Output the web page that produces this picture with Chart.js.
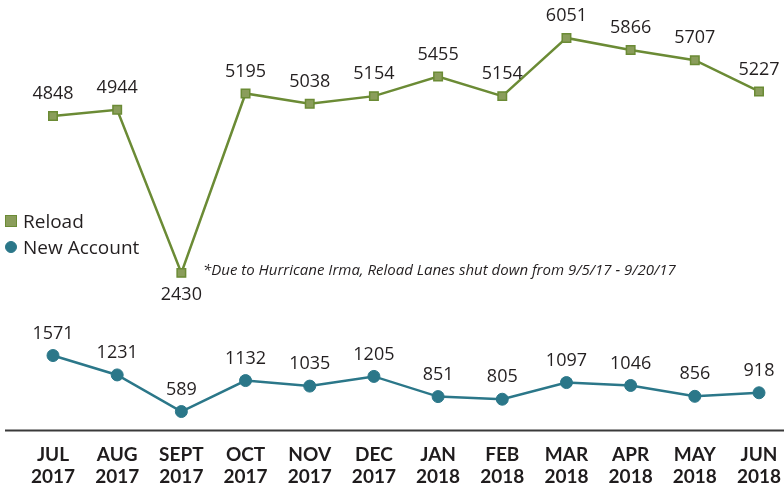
<!DOCTYPE html>
<html>
<head>
<meta charset="utf-8">
<script src="https://cdn.jsdelivr.net/npm/chart.js@4.4.0/dist/chart.umd.min.js"></script>
<style>
  html, body { margin: 0; padding: 0; background: #fff; }
  #wrap { position: relative; width: 784px; height: 489px; }
  #legend { position: absolute; left: 5px; top: 208px; font-family: 'Open Sans', sans-serif; font-size: 19px; color: #231f20; }
  #legend div { display: flex; align-items: center; height: 26px; }
  #legend span.sw { display: inline-block; width: 12px; height: 12px; margin-right: 6px; box-sizing: border-box; }
  #note { position: absolute; left: 203px; top: 259px; font-family: 'Open Sans', sans-serif; font-style: italic; font-size: 15px; color: #231f20; white-space: nowrap; }
</style>
</head>
<body>
<div id="wrap">
  <canvas id="chart" width="784" height="489"></canvas>
  <div id="legend"></div>
  <div id="note"></div>
</div>
<script>
const months = [['JUL', '2017'], ['AUG', '2017'], ['SEPT', '2017'], ['OCT', '2017'], ['NOV', '2017'], ['DEC', '2017'],
                ['JAN', '2018'], ['FEB', '2018'], ['MAR', '2018'], ['APR', '2018'], ['MAY', '2018'], ['JUN', '2018']];
const reload = [4848, 4944, 2430, 5195, 5038, 5154, 5455, 5154, 6051, 5866, 5707, 5227];
const newAccount = [1571, 1231, 589, 1132, 1035, 1205, 851, 805, 1097, 1046, 856, 918];
const noteText = '*Due to Hurricane Irma, Reload Lanes shut down from 9/5/17 - 9/20/17';

const reloadColor = '#6b8b35', reloadFill = '#8a9d5b';
const newColor = '#2b7789';

// value labels above each point (below for the Irma dip)
const valueLabels = {
    id: 'valueLabels',
    afterDatasetsDraw(chart) {
        const ctx = chart.ctx;
        ctx.save();
        ctx.font = '18px "Open Sans", sans-serif';
        ctx.fillStyle = '#231f20';
        ctx.textAlign = 'center';
        ctx.textBaseline = 'middle';
        chart.data.datasets.forEach((ds, i) => {
            const meta = chart.getDatasetMeta(i);
            meta.data.forEach((pt, j) => {
                const below = (ds.labelBelow || []).includes(j);
                ctx.fillText(ds.data[j], pt.x, below ? pt.y + 22 : pt.y - 22);
            });
        });
        ctx.restore();
    }
};

// long baseline under the plot
const baseline = {
    id: 'baseline',
    beforeDatasetsDraw(chart) {
        const ctx = chart.ctx, y = chart.chartArea.bottom;
        ctx.save();
        ctx.strokeStyle = '#3a3a3a';
        ctx.lineWidth = 2;
        ctx.beginPath();
        ctx.moveTo(5, y);
        ctx.lineTo(chart.width, y);
        ctx.stroke();
        ctx.restore();
    }
};

new Chart(document.getElementById('chart'), {
    type: 'line',
    data: {
        labels: months,
        datasets: [
            {
                label: 'Reload', data: reload, yAxisID: 'y', labelBelow: [2],
                borderColor: reloadColor, borderWidth: 2.5,
                pointStyle: 'rect', pointRadius: 6, pointBackgroundColor: reloadFill,
                pointBorderColor: reloadColor, pointBorderWidth: 1.5, clip: false
            },
            {
                label: 'New Account', data: newAccount, yAxisID: 'y2',
                borderColor: newColor, borderWidth: 2.5,
                pointStyle: 'circle', pointRadius: 6, pointBackgroundColor: newColor,
                pointBorderColor: newColor, pointBorderWidth: 1, clip: false
            }
        ]
    },
    options: {
        responsive: false,
        animation: false,
        layout: { padding: { left: 53, right: 25, top: 0, bottom: -12 } },
        plugins: { legend: { display: false }, tooltip: { enabled: false } },
        scales: {
            x: {
                offset: false,
                grid: { display: false, drawTicks: false },
                border: { display: false },
                afterFit(scale) { scale.paddingLeft = 0; scale.paddingRight = 0; },
                ticks: {
                    padding: 13, color: '#1f1c1d', maxRotation: 0, autoSkip: false,
                    font: { family: 'Lato', weight: 'bold', size: 19, lineHeight: 1.17 }
                }
            },
            y: { display: false, min: 0, max: 6520 },
            y2: { display: false, min: 256, max: 7673 }
        }
    },
    plugins: [baseline, valueLabels]
});

const legend = document.getElementById('legend');
[['Reload', reloadFill, reloadColor, '0'], ['New Account', newColor, newColor, '50%']].forEach(([name, fill, border, radius]) => {
    const row = document.createElement('div');
    row.innerHTML = `<span class="sw" style="background:${fill};border:1.5px solid ${border};border-radius:${radius}"></span>${name}`;
    legend.appendChild(row);
});
document.getElementById('note').textContent = noteText;
</script>
</body>
</html>
